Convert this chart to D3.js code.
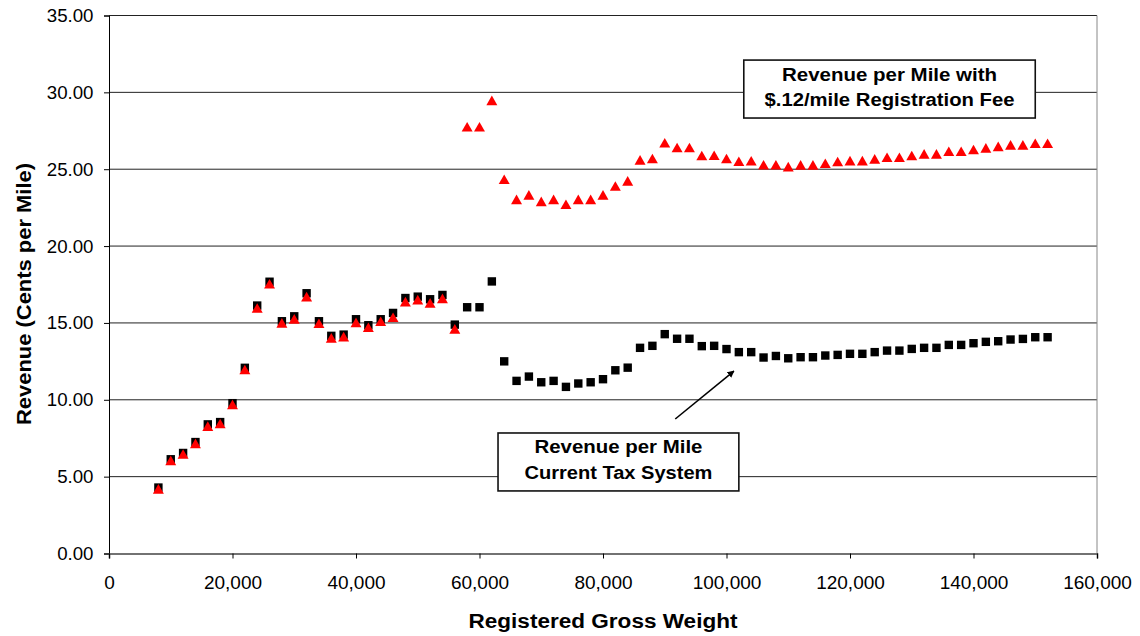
<!DOCTYPE html>
<html>
<head>
<meta charset="utf-8">
<script src="https://cdn.jsdelivr.net/npm/d3@7"></script>
<style>
  html, body { margin: 0; padding: 0; background: #fff; }
  svg { display: block; font-family: "Liberation Sans", Arial, sans-serif; }
</style>
</head>
<body>
<svg id="chart" width="1140" height="636"></svg>
<script>
// Registered gross weight (lbs) for each vehicle class
const weights = [
  8000, 10000, 12000, 14000, 16000, 18000, 20000, 22000, 24000, 26000,
  28000, 30000, 32000, 34000, 36000, 38000, 40000, 42000, 44000, 46000,
  48000, 50000, 52000, 54000, 56000, 58000, 60000, 62000, 64000, 66000,
  68000, 70000, 72000, 74000, 76000, 78000, 80000, 82000, 84000, 86000,
  88000, 90000, 92000, 94000, 96000, 98000, 100000, 102000, 104000, 106000,
  108000, 110000, 112000, 114000, 116000, 118000, 120000, 122000, 124000, 126000,
  128000, 130000, 132000, 134000, 136000, 138000, 140000, 142000, 144000, 146000,
  148000, 150000, 152000
];

// Revenue per mile (cents) under the current tax system
const currentTax = [
  4.29, 6.13, 6.54, 7.25, 8.40, 8.55, 9.78, 12.08, 16.13, 17.68,
  15.11, 15.43, 16.93, 15.11, 14.16, 14.24, 15.24, 14.85, 15.24, 15.65,
  16.62, 16.71, 16.54, 16.82, 14.89, 16.02, 16.02, 17.70, 12.50, 11.23,
  11.51, 11.14, 11.23, 10.84, 11.06, 11.14, 11.34, 11.92, 12.09, 13.38,
  13.51, 14.27, 13.97, 13.97, 13.49, 13.51, 13.30, 13.10, 13.10, 12.75,
  12.85, 12.70, 12.77, 12.77, 12.88, 12.92, 12.99, 12.99, 13.10, 13.20,
  13.20, 13.31, 13.38, 13.38, 13.57, 13.57, 13.68, 13.77, 13.81, 13.92,
  13.96, 14.07, 14.07
];

// Revenue per mile (cents) with a $.12/mile registration fee
const withFee = [
  4.20, 6.06, 6.47, 7.16, 8.29, 8.46, 9.70, 11.97, 15.97, 17.55,
  15.00, 15.26, 16.71, 14.98, 14.03, 14.11, 15.04, 14.72, 15.11, 15.37,
  16.39, 16.52, 16.30, 16.60, 14.61, 27.76, 27.76, 29.48, 24.35, 23.04,
  23.33, 22.91, 23.04, 22.72, 23.04, 23.04, 23.33, 23.91, 24.24, 25.61,
  25.70, 26.72, 26.41, 26.41, 25.89, 25.91, 25.70, 25.52, 25.55, 25.29,
  25.29, 25.17, 25.28, 25.28, 25.39, 25.50, 25.56, 25.56, 25.67, 25.78,
  25.78, 25.89, 26.00, 26.00, 26.17, 26.17, 26.28, 26.39, 26.49, 26.58,
  26.58, 26.69, 26.69
];

const xTicks = [0, 20000, 40000, 60000, 80000, 100000, 120000, 140000, 160000];
const yTicks = [0, 5, 10, 15, 20, 25, 30, 35];

const feeLabel = ["Revenue per Mile with", "$.12/mile Registration Fee"];
const currentLabel = ["Revenue per Mile", "Current Tax System"];

const svg = d3.select("#chart");
const plot = { left: 109, right: 1097, top: 15.5, bottom: 553.5 };

const x = d3.scaleLinear().domain([0, 160000]).range([plot.left, plot.right]);
const y = d3.scaleLinear().domain([0, 35]).range([plot.bottom, plot.top]);

// horizontal gridlines
svg.append("g")
  .selectAll("line")
  .data(yTicks.filter(d => d > 0))
  .join("line")
  .attr("x1", plot.left).attr("x2", plot.right)
  .attr("y1", d => y(d)).attr("y2", d => y(d))
  .attr("stroke", "#222").attr("stroke-width", 1);

// right edge of plot area
svg.append("line")
  .attr("x1", plot.right).attr("x2", plot.right)
  .attr("y1", plot.top).attr("y2", plot.bottom)
  .attr("stroke", "#888").attr("stroke-width", 1);

// y axis
const yAxis = svg.append("g")
  .attr("transform", `translate(${plot.left},0)`)
  .call(d3.axisLeft(y).tickValues(yTicks).tickFormat(d3.format(".2f")).tickSize(5).tickPadding(10.5));
yAxis.select(".domain").attr("stroke", "#000");
yAxis.selectAll(".tick line").attr("stroke", "#000");
yAxis.selectAll("text").attr("font-size", 18.7).attr("fill", "#000")
  .attr("font-family", "Liberation Sans, Arial, sans-serif");

// x axis
const xAxis = svg.append("g")
  .attr("transform", `translate(0,${plot.bottom})`)
  .call(d3.axisBottom(x).tickValues(xTicks).tickFormat(d3.format(",")).tickSize(5).tickPadding(17));
xAxis.select(".domain").attr("stroke", "#444").attr("stroke-width", 1.6);
xAxis.selectAll(".tick line").attr("stroke", "#000");
xAxis.selectAll("text").attr("font-size", 19).attr("fill", "#000")
  .attr("font-family", "Liberation Sans, Arial, sans-serif");

// axis titles (bold, slightly wide set)
svg.append("text")
  .attr("x", 603).attr("y", 628)
  .attr("text-anchor", "middle")
  .attr("font-size", 19.5).attr("font-weight", "bold")
  .attr("textLength", 269).attr("lengthAdjust", "spacingAndGlyphs")
  .text("Registered Gross Weight");

svg.append("text")
  .attr("transform", `translate(31,294) rotate(-90)`)
  .attr("text-anchor", "middle")
  .attr("font-size", 19.5).attr("font-weight", "bold")
  .attr("textLength", 262).attr("lengthAdjust", "spacingAndGlyphs")
  .text("Revenue (Cents per Mile)");

// triangle symbol centred on its bounding box
const boxTriangle = {
  draw(context, size) {
    const s = Math.sqrt(size * 4 / Math.sqrt(3));
    const h = s * 0.88;
    context.moveTo(0, -h / 2);
    context.lineTo(s / 2, h / 2);
    context.lineTo(-s / 2, h / 2);
    context.closePath();
  }
};

const rows = weights.map((w, i) => ({ w, cur: currentTax[i], fee: withFee[i] }));

// current tax system: black squares
svg.append("g")
  .selectAll("rect")
  .data(rows)
  .join("rect")
  .attr("x", d => x(d.w) - 4.2).attr("y", d => y(d.cur) - 4.2)
  .attr("width", 8.4).attr("height", 8.4)
  .attr("fill", "#000");

// with registration fee: red triangles
svg.append("g")
  .selectAll("path")
  .data(rows)
  .join("path")
  .attr("transform", d => `translate(${x(d.w)},${y(d.fee)})`)
  .attr("d", d3.symbol(boxTriangle, 52))
  .attr("fill", "#ff0000");

// arrow pointing from the label to the current-system series
svg.append("defs").append("marker")
  .attr("id", "arrowhead")
  .attr("viewBox", "0 0 10 10")
  .attr("refX", 9).attr("refY", 5)
  .attr("markerWidth", 7).attr("markerHeight", 7)
  .attr("markerUnits", "userSpaceOnUse")
  .attr("orient", "auto")
  .append("path").attr("d", "M0,0 L10,5 L0,10 z").attr("fill", "#000");

svg.append("line")
  .attr("x1", x(91700)).attr("y1", y(8.75))
  .attr("x2", x(101200)).attr("y2", y(11.87))
  .attr("stroke", "#000").attr("stroke-width", 1.6)
  .attr("marker-end", "url(#arrowhead)");

// callout boxes; widths give each line its set length
function callout(x0, x1, v0, v1, lines, lengths, baselines) {
  const g = svg.append("g");
  const top = y(v0), bottom = y(v1);
  g.append("rect")
    .attr("x", x(x0)).attr("y", top)
    .attr("width", x(x1) - x(x0)).attr("height", bottom - top)
    .attr("fill", "#fff").attr("stroke", "#111").attr("stroke-width", 1.6);
  const cx = (x(x0) + x(x1)) / 2;
  g.selectAll("text")
    .data(lines)
    .join("text")
    .attr("x", cx)
    .attr("y", (d, i) => baselines[i])
    .attr("text-anchor", "middle")
    .attr("font-size", 17.5).attr("font-weight", "bold")
    .attr("textLength", (d, i) => lengths[i]).attr("lengthAdjust", "spacingAndGlyphs")
    .attr("fill", "#000")
    .text(d => d);
}

callout(102800, 150000, 32.1, 28.33, feeLabel, [215, 250], [81, 106]);
callout(63000, 102000, 7.84, 4.07, currentLabel, [168, 188], [453.3, 479.3]);
</script>
</body>
</html>
